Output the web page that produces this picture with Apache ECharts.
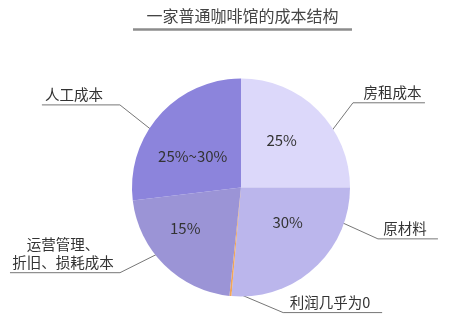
<!DOCTYPE html>
<html><head><meta charset="utf-8">
<script src="https://cdn.jsdelivr.net/npm/echarts@6/dist/echarts.min.js"></script>
<style>html,body{margin:0;padding:0;background:#fff}#c{width:456px;height:335px}</style>
</head><body><div id="c"></div>
<script>
// ---- data ----
const categories = ['房租成本', '原材料', '利润几乎为0', '运营管理、\n折旧、损耗成本', '人工成本'];
const shares = [25, 26.4, 0.3, 21.4, 26.9];          // slice sizes as drawn (angles)
const shareLabels = ['25%', '30%', '', '15%', '25%~30%']; // texts printed in the slices
const titleText = '一家普通咖啡馆的成本结构';

// ---- styles / layout ----
const sliceColors = ['#dcd8fa', '#bbb6ec', '#f0a55a', '#9b94d6', '#8c84dc'];
const FONT = '"Noto Sans CJK SC", "Noto Sans", sans-serif';
const CX = 241, CY = 187.5, R = 109;
// inside label: [fraction of slice angle, fraction of radius]
const insidePos = [[0.45, 0.575], [0.39, 0.537], null, [0.62, 0.633], [0.41, 0.527]];
// outside label: anchor fraction, radius fraction, elbow offset, underline length, text centre offset
const outsidePos = [
  { f: 0.671, r: 0.886, ex: 28, ey: -37, len: 72, tx: 39.5 },
  { f: 0.19, r: 0.81, ex: 53, ey: 24, len: 60, tx: 27 },
  { f: 0.4, r: 0.95, ex: 52, ey: 22, len: 99, tx: 47 },
  { f: 0.57, r: 0.874, ex: -48, ey: 24, len: 110, tx: 57 },
  { f: 0.40, r: 0.844, ex: -43, ey: -34, len: 78, tx: 46 }
];

const total = shares.reduce((a, b) => a + b, 0);
const starts = [];
let acc = 0;
shares.forEach(v => { starts.push(acc / total * 360); acc += v; });
function pt(i, frac, rf) {
  const a = (starts[i] + frac * shares[i] / total * 360) * Math.PI / 180;
  return [CX + rf * R * Math.sin(a), CY - rf * R * Math.cos(a)];
}

const chart = echarts.init(document.getElementById('c'), null, { renderer: 'canvas' });
const pieData = categories.map((n, i) => ({ name: n, value: shares[i], itemStyle: { color: sliceColors[i] } }));
const pieData2 = categories.map((n, i) => ({ name: n, value: shares[i] }));

chart.setOption({
  backgroundColor: '#fff',
  animation: false,
  title: {
    text: titleText, left: 242.5, textAlign: 'center', top: 8, padding: 0,
    textStyle: { fontSize: 16, fontWeight: 'normal', color: '#444', fontFamily: FONT }
  },
  graphic: [{ type: 'rect', left: 133, top: 28.3, shape: { width: 219, height: 2.4 }, style: { fill: '#8c8c8c' } }],
  series: [
    {
      type: 'pie', center: [CX, CY], radius: R, startAngle: 90, clockwise: true,
      silent: true, avoidLabelOverlap: false, emphasis: { disabled: true },
      itemStyle: { borderWidth: 0 },
      data: pieData,
      label: {
        show: true, position: 'inside', formatter: p => shareLabels[p.dataIndex],
        color: '#333', fontSize: 15, fontFamily: FONT
      },
      labelLine: { show: false },
      labelLayout: p => {
        const c = insidePos[p.dataIndex];
        if (!c) return {};
        const q = pt(p.dataIndex, c[0], c[1]);
        return { x: q[0], y: q[1], align: 'center', verticalAlign: 'middle' };
      }
    },
    {
      type: 'pie', center: [CX, CY], radius: R, startAngle: 90, clockwise: true,
      silent: true, avoidLabelOverlap: false, emphasis: { disabled: true },
      itemStyle: { color: 'rgba(0,0,0,0)', borderWidth: 0 },
      data: pieData2,
      label: {
        show: true, position: 'outside', formatter: '{b}', width: 160, overflow: 'none',
        color: '#333', fontSize: 14.5, lineHeight: 18, fontFamily: FONT
      },
      labelLine: { show: true, lineStyle: { color: '#777', width: 1 } },
      labelLayout: p => {
        const c = outsidePos[p.dataIndex];
        const p0 = pt(p.dataIndex, c.f, c.r);
        const p1 = [p0[0] + c.ex, p0[1] + c.ey];
        const s = c.ex >= 0 ? 1 : -1;
        const p2 = [p1[0] + s * c.len, p1[1]];
        return {
          x: p1[0] + s * c.tx, y: p1[1] - 1, align: 'center', verticalAlign: 'bottom',
          labelLinePoints: [p0, p1, p2]
        };
      }
    }
  ]
});
</script></body></html>
